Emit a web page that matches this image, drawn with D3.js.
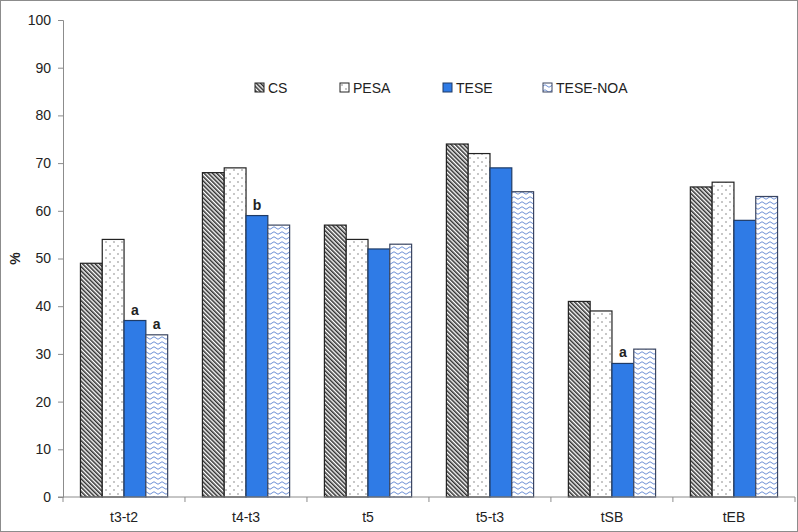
<!DOCTYPE html>
<html>
<head>
<meta charset="utf-8">
<script src="https://cdn.jsdelivr.net/npm/d3@7"></script>
<style>
  body { margin: 0; background: #fff; }
  svg { display: block; font-family: "Liberation Sans", Arial, sans-serif; }
</style>
</head>
<body>
<svg id="chart" width="798" height="532"></svg>
<script>
let categories = ['t3-t2', 't4-t3', 't5', 't5-t3', 'tSB', 'tEB'];
let seriesNames = ['CS', 'PESA', 'TESE', 'TESE-NOA'];
let cs = [49, 68, 57, 74, 41, 65];
let pesa = [54, 69, 54, 72, 39, 66];
let tese = [37, 59, 52, 69, 28, 58];
let teseNoa = [34, 57, 53, 64, 31, 63];
let yTicks = [0, 10, 20, 30, 40, 50, 60, 70, 80, 90, 100];
// letters over bars: [category, series, letter]
let notes = [['t3-t2', 'TESE', 'a'], ['t3-t2', 'TESE-NOA', 'a'], ['t4-t3', 'TESE', 'b'], ['tSB', 'TESE', 'a']];

let values = [cs, pesa, tese, teseNoa];
let rows = [];
categories.forEach((c, i) => {
    seriesNames.forEach((s, j) => rows.push({cat: c, series: s, value: values[j][i]}));
});

let svg = d3.select('#chart');
let W = 798, H = 532;
let mLeft = 63, mRight = 795, mTop = 20, mBottom = 497;

svg.append('rect')
    .attr('x', 0.5).attr('y', 0.5)
    .attr('width', W - 1).attr('height', H - 1)
    .attr('fill', '#fff').attr('stroke', '#8c8c8c');

// patterns
let defs = svg.append('defs');
let pCS = defs.append('pattern').attr('id', 'pat-CS')
    .attr('patternUnits', 'userSpaceOnUse').attr('width', 3).attr('height', 3)
    .attr('patternTransform', 'rotate(-45)');
pCS.append('rect').attr('width', 3).attr('height', 3).attr('fill', '#fff');
pCS.append('line').attr('x1', 0.8).attr('y1', 0).attr('x2', 0.8).attr('y2', 3)
    .attr('stroke', '#1a1a1a').attr('stroke-width', 1.4);

let pPESA = defs.append('pattern').attr('id', 'pat-PESA')
    .attr('patternUnits', 'userSpaceOnUse').attr('width', 8).attr('height', 8);
pPESA.append('rect').attr('width', 8).attr('height', 8).attr('fill', '#fff');
pPESA.append('rect').attr('x', 1.5).attr('y', 1.5).attr('width', 1).attr('height', 1).attr('fill', '#222');
pPESA.append('rect').attr('x', 5.5).attr('y', 5.5).attr('width', 1).attr('height', 1).attr('fill', '#222');

let pNOA = defs.append('pattern').attr('id', 'pat-TESE-NOA')
    .attr('patternUnits', 'userSpaceOnUse').attr('width', 8).attr('height', 5);
pNOA.append('rect').attr('width', 8).attr('height', 5).attr('fill', '#fff');
pNOA.append('path').attr('d', 'M0,3 Q2,0.5 4,3 T8,3')
    .attr('fill', 'none').attr('stroke', '#6d8fd6').attr('stroke-width', 1);

let fills = {'CS': 'url(#pat-CS)', 'PESA': 'url(#pat-PESA)', 'TESE': '#2f7be6', 'TESE-NOA': 'url(#pat-TESE-NOA)'};
let strokes = {'CS': '#222', 'PESA': '#222', 'TESE': '#1f3b66', 'TESE-NOA': '#3a4560'};

let x0 = d3.scaleBand().domain(categories).range([mLeft, mRight]).paddingInner(0.285).paddingOuter(0.143);
let x1 = d3.scaleBand().domain(seriesNames).range([0, x0.bandwidth()]);
let y = d3.scaleLinear().domain([0, 100]).range([mBottom, mTop]);

// bars
svg.append('g').selectAll('rect').data(rows).enter().append('rect')
    .attr('x', d => x0(d.cat) + x1(d.series))
    .attr('y', d => y(d.value))
    .attr('width', x1.bandwidth())
    .attr('height', d => y(0) - y(d.value))
    .attr('fill', d => fills[d.series])
    .attr('stroke', d => strokes[d.series])
    .attr('stroke-width', 1.2);

// y axis
let yAxis = svg.append('g').attr('transform', `translate(${mLeft},0)`)
    .call(d3.axisLeft(y).tickValues(yTicks).tickSize(5).tickPadding(7));
yAxis.select('.domain').attr('stroke', '#8c8c8c');
yAxis.selectAll('.tick line').attr('stroke', '#8c8c8c');
yAxis.selectAll('text').attr('font-size', 14).attr('fill', '#222');

// x axis with ticks between groups
let xg = svg.append('g');
xg.append('line').attr('x1', mLeft - 5).attr('x2', mRight).attr('y1', mBottom).attr('y2', mBottom)
    .attr('stroke', '#8c8c8c');
let step = x0.step();
let bounds = categories.map(c => x0(c) - x0.paddingOuter() * step);
bounds.push(mRight);
xg.selectAll('.bt').data(bounds).enter().append('line')
    .attr('x1', d => d).attr('x2', d => d)
    .attr('y1', mBottom).attr('y2', mBottom + 5)
    .attr('stroke', '#8c8c8c');
xg.selectAll('text').data(categories).enter().append('text')
    .attr('x', d => x0(d) + x0.bandwidth() / 2)
    .attr('y', 522)
    .attr('text-anchor', 'middle')
    .attr('font-size', 14).attr('fill', '#222')
    .text(d => d);

// y label
svg.append('text')
    .attr('transform', `translate(20,${(mTop + mBottom) / 2}) rotate(-90)`)
    .attr('text-anchor', 'middle')
    .attr('font-size', 14).attr('font-weight', 'bold').attr('fill', '#222')
    .text('%');

// letters
let byKey = {};
rows.forEach(r => byKey[r.cat + '|' + r.series] = r.value);
svg.append('g').selectAll('text').data(notes).enter().append('text')
    .attr('x', d => x0(d[0]) + x1(d[1]) + x1.bandwidth() / 2)
    .attr('y', d => y(byKey[d[0] + '|' + d[1]]) - 6)
    .attr('text-anchor', 'middle')
    .attr('font-size', 14).attr('font-weight', 'bold').attr('fill', '#222')
    .text(d => d[2]);

// legend
let legendX = [255, 340, 443, 543];
let lg = svg.append('g').selectAll('g').data(seriesNames).enter().append('g')
    .attr('transform', (d, i) => `translate(${legendX[i]},83)`);
lg.append('rect').attr('width', 9).attr('height', 9)
    .attr('fill', d => fills[d]).attr('stroke', d => strokes[d]).attr('stroke-width', 1);
lg.append('text').attr('x', 13).attr('y', 9.5)
    .attr('font-size', 14).attr('fill', '#222')
    .text(d => d);
</script>
</body>
</html>
